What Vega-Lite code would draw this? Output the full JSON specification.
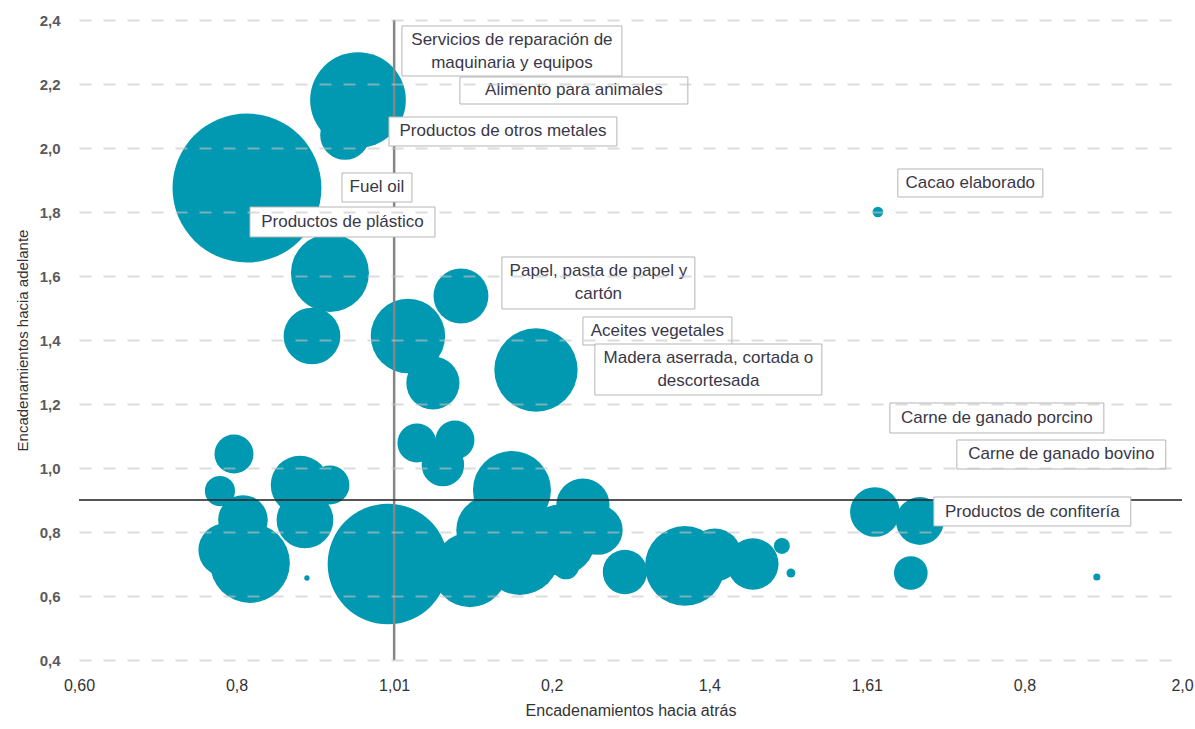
{
  "$schema": "https://vega.github.io/schema/vega-lite/v6.json",
  "width": 1103,
  "height": 640,
  "autosize": {"type": "none"},
  "padding": {"left": 79, "top": 20, "right": 13, "bottom": 69},
  "background": "white",
  "config": {
    "view": {"stroke": null},
    "font": "Liberation Sans"
  },
  "datasets": {
    "burbujas": [
      {"x": 0.8132, "y": 1.875, "peso": 70.56},
      {"x": 0.9541, "y": 2.15, "peso": 29.16},
      {"x": 0.9376, "y": 2.0406, "peso": 7.84},
      {"x": 0.9185, "y": 1.6094, "peso": 19.36},
      {"x": 0.8957, "y": 1.4125, "peso": 10.24},
      {"x": 1.0175, "y": 1.4125, "peso": 17.64},
      {"x": 1.0848, "y": 1.5375, "peso": 9.61},
      {"x": 1.0492, "y": 1.2656, "peso": 9.0},
      {"x": 1.18, "y": 1.3063, "peso": 22.09},
      {"x": 1.614, "y": 1.8, "peso": 0.36},
      {"x": 0.7967, "y": 1.0438, "peso": 4.84},
      {"x": 0.7789, "y": 0.9281, "peso": 2.89},
      {"x": 0.8081, "y": 0.8375, "peso": 7.84},
      {"x": 0.7853, "y": 0.7438, "peso": 9.0},
      {"x": 0.817, "y": 0.7031, "peso": 20.25},
      {"x": 0.8805, "y": 0.9469, "peso": 10.89},
      {"x": 0.9185, "y": 0.9469, "peso": 4.84},
      {"x": 0.8868, "y": 0.8375, "peso": 10.24},
      {"x": 0.8893, "y": 0.6563, "peso": 0.09},
      {"x": 0.9921, "y": 0.7, "peso": 46.24},
      {"x": 1.0289, "y": 1.0781, "peso": 4.84},
      {"x": 1.0772, "y": 1.0875, "peso": 4.84},
      {"x": 1.0619, "y": 1.0094, "peso": 5.76},
      {"x": 1.1495, "y": 0.9313, "peso": 19.36},
      {"x": 1.0962, "y": 0.6813, "peso": 17.64},
      {"x": 1.1596, "y": 0.7281, "peso": 20.25},
      {"x": 1.1216, "y": 0.8063, "peso": 14.44},
      {"x": 1.2104, "y": 0.775, "peso": 16.0},
      {"x": 1.2396, "y": 0.8844, "peso": 9.0},
      {"x": 1.2586, "y": 0.8063, "peso": 7.84},
      {"x": 1.218, "y": 0.6938, "peso": 2.25},
      {"x": 1.2929, "y": 0.675, "peso": 6.25},
      {"x": 1.369, "y": 0.6938, "peso": 20.25},
      {"x": 1.4071, "y": 0.7281, "peso": 9.0},
      {"x": 1.4553, "y": 0.7, "peso": 8.41},
      {"x": 1.4921, "y": 0.7563, "peso": 0.81},
      {"x": 1.5036, "y": 0.6719, "peso": 0.25},
      {"x": 1.6102, "y": 0.8625, "peso": 7.84},
      {"x": 1.6673, "y": 0.8344, "peso": 7.29},
      {"x": 1.6558, "y": 0.6719, "peso": 3.61},
      {"x": 1.8919, "y": 0.6594, "peso": 0.16}
    ],
    "etiquetas": [
      {"nombre": "Servicios de reparación de|maquinaria y equipos", "x": 1.0099, "xb": 1.2891, "y": 2.3813, "yb": 2.225, "xt": 1.1495, "yt": 2.339},
      {"nombre": "Alimento para animales", "x": 1.0835, "xb": 1.3728, "y": 2.2219, "yb": 2.1375, "xt": 1.2282, "yt": 2.1797},
      {"nombre": "Productos de otros metales", "x": 0.9934, "xb": 1.2827, "y": 2.0969, "yb": 2.0063, "xt": 1.1381, "yt": 2.0516},
      {"nombre": "Fuel oil", "x": 0.9338, "xb": 1.0226, "y": 1.9219, "yb": 1.8313, "xt": 0.9782, "yt": 1.8766},
      {"nombre": "Productos de plástico", "x": 0.817, "xb": 1.0518, "y": 1.8156, "yb": 1.7219, "xt": 0.9344, "yt": 1.7688},
      {"nombre": "Papel, pasta de papel y|cartón", "x": 1.1368, "xb": 1.3817, "y": 1.6594, "yb": 1.4969, "xt": 1.2593, "yt": 1.6156},
      {"nombre": "Aceites vegetales", "x": 1.2396, "xb": 1.4287, "y": 1.4719, "yb": 1.3844, "xt": 1.3341, "yt": 1.4281},
      {"nombre": "Madera aserrada, cortada o|descortesada", "x": 1.2548, "xb": 1.5429, "y": 1.3875, "yb": 1.2281, "xt": 1.3989, "yt": 1.3453},
      {"nombre": "Cacao elaborado", "x": 1.6393, "xb": 1.8234, "y": 1.9344, "yb": 1.8469, "xt": 1.7313, "yt": 1.8906},
      {"nombre": "Carne de ganado porcino", "x": 1.6292, "xb": 1.9008, "y": 1.2031, "yb": 1.1094, "xt": 1.765, "yt": 1.1563},
      {"nombre": "Carne de ganado bovino", "x": 1.7142, "xb": 1.9794, "y": 1.0875, "yb": 0.9969, "xt": 1.8468, "yt": 1.0422},
      {"nombre": "Productos de confitería", "x": 1.685, "xb": 1.935, "y": 0.9094, "yb": 0.8188, "xt": 1.81, "yt": 0.864}
    ]
  },
  "layer": [
    {
      "data": {"name": "burbujas"},
      "mark": {"type": "circle", "color": "#0099b1", "opacity": 1, "strokeWidth": 0},
      "encoding": {
        "x": {
          "field": "x", "type": "quantitative",
          "scale": {"domain": [0.6, 2.0], "nice": false, "zero": false},
          "title": "Encadenamientos hacia atrás",
          "axis": {
            "values": [0.6, 0.8, 1.0, 1.2, 1.4, 1.6, 1.8, 2.0],
            "labelExpr": "['0,60','0,8','1,01','0,2','1,4','1,61','0,8','2,0'][round((datum.value - 0.6) / 0.2)]",
            "grid": false, "domain": false, "ticks": false, "tickSize": 0,
            "labelPadding": 17, "labelFontSize": 16, "labelColor": "#333333",
            "labelFlush": false, "labelBound": false, "labelOverlap": false,
            "titleFontSize": 16, "titleFontWeight": "normal", "titleColor": "#333333", "titlePadding": 9
          }
        },
        "y": {
          "field": "y", "type": "quantitative",
          "scale": {"domain": [0.4, 2.4], "nice": false, "zero": false},
          "title": "Encadenamientos hacia adelante",
          "axis": {
            "values": [0.4, 0.6, 0.8, 1.0, 1.2, 1.4, 1.6, 1.8, 2.0, 2.2, 2.4],
            "labelExpr": "replace(format(datum.value, '.1f'), '.', ',')",
            "grid": true, "gridColor": "#c4c4c4", "gridOpacity": 0.6, "gridDash": [12, 12], "gridWidth": 2,
            "domain": false, "ticks": false, "tickSize": 0, "zindex": 1,
            "labelPadding": 19, "labelFontSize": 15, "labelFontWeight": "bold", "labelColor": "#5a5a5a",
            "titleFontSize": 15, "titleFontWeight": "normal", "titleColor": "#333333", "titlePadding": 9
          }
        },
        "size": {
          "field": "peso", "type": "quantitative",
          "scale": {"type": "linear", "domain": [0, 100], "range": [0, 31416], "zero": true},
          "legend": null
        }
      }
    },
    {
      "data": {"values": [{"x": 1.0}]},
      "mark": {"type": "rule", "color": "#858585", "strokeWidth": 2.5},
      "encoding": {
        "x": {"field": "x", "type": "quantitative", "scale": {"domain": [0.6, 2.0], "nice": false, "zero": false}, "title": "Encadenamientos hacia atrás"}
      }
    },
    {
      "data": {"values": [{"y": 0.9}]},
      "mark": {"type": "rule", "color": "#2a2a2a", "opacity": 0.8, "strokeWidth": 2},
      "encoding": {
        "y": {"field": "y", "type": "quantitative", "scale": {"domain": [0.4, 2.4], "nice": false, "zero": false}, "title": "Encadenamientos hacia adelante"}
      }
    },
    {
      "data": {"name": "etiquetas"},
      "mark": {"type": "rect", "fill": "white", "stroke": "#b5b5b5", "strokeWidth": 1},
      "encoding": {
        "x": {"field": "x", "type": "quantitative", "scale": {"domain": [0.6, 2.0], "nice": false, "zero": false}, "title": "Encadenamientos hacia atrás"},
        "x2": {"field": "xb"},
        "y": {"field": "y", "type": "quantitative", "scale": {"domain": [0.4, 2.4], "nice": false, "zero": false}, "title": "Encadenamientos hacia adelante"},
        "y2": {"field": "yb"}
      }
    },
    {
      "data": {"name": "etiquetas"},
      "mark": {"type": "text", "align": "center", "baseline": "middle", "fontSize": 17, "color": "#3a3848", "lineBreak": "|", "lineHeight": 23},
      "encoding": {
        "x": {"field": "xt", "type": "quantitative", "scale": {"domain": [0.6, 2.0], "nice": false, "zero": false}, "title": "Encadenamientos hacia atrás"},
        "y": {"field": "yt", "type": "quantitative", "scale": {"domain": [0.4, 2.4], "nice": false, "zero": false}, "title": "Encadenamientos hacia adelante"},
        "text": {"field": "nombre"}
      }
    }
  ]
}
